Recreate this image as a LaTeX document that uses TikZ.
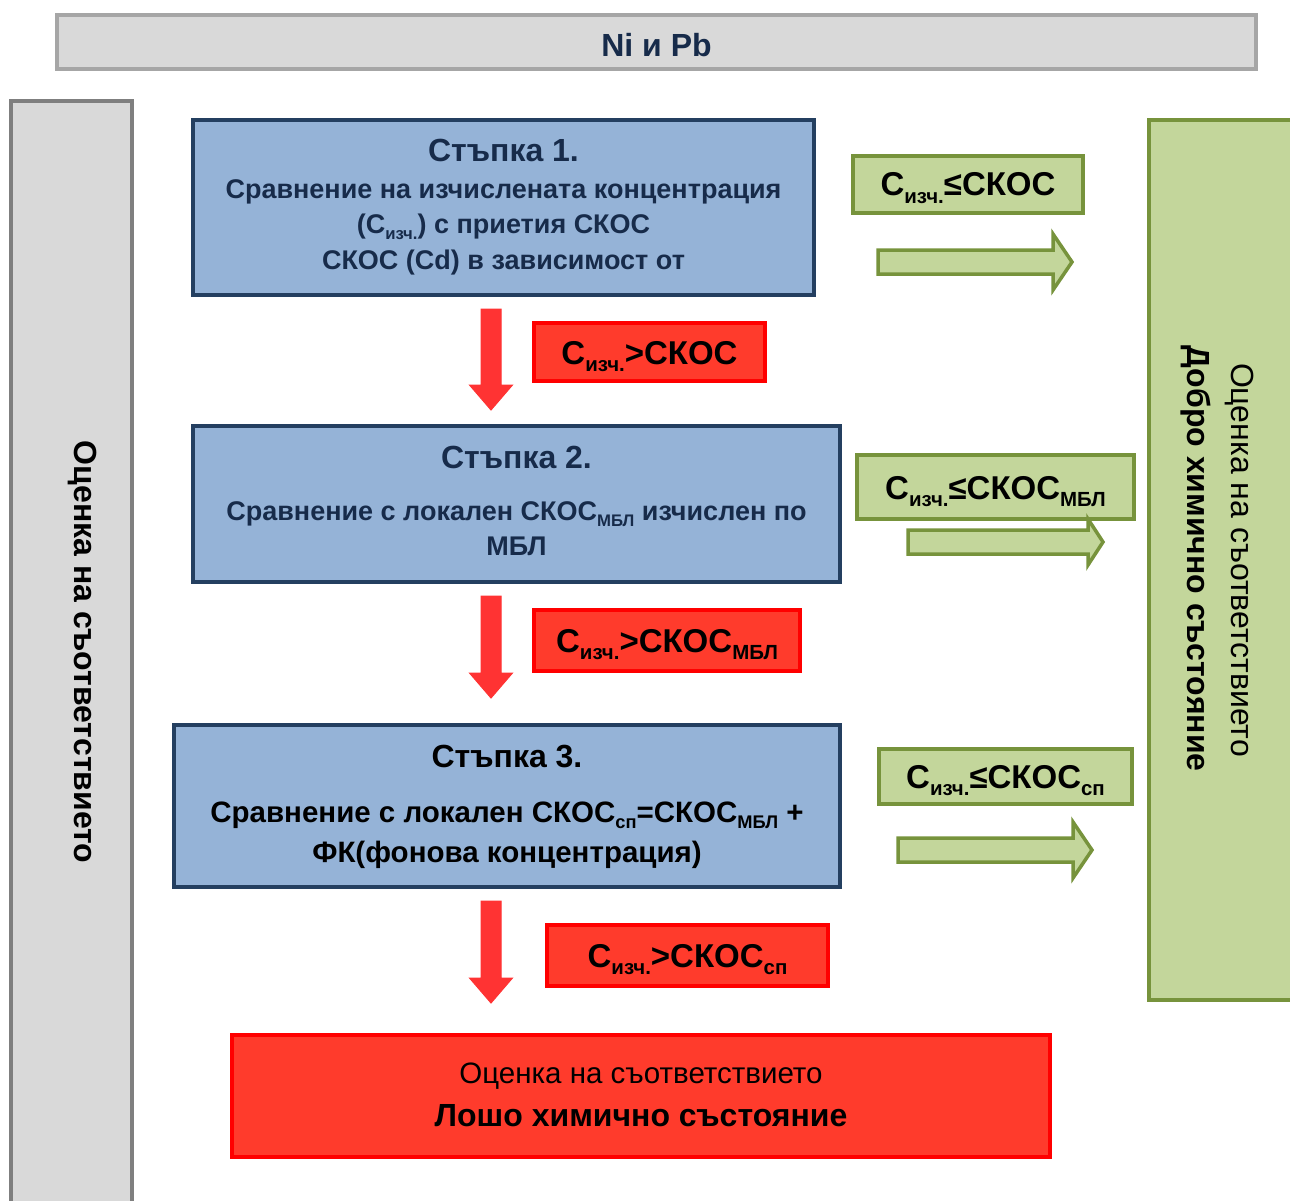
\documentclass[tikz,border=0pt]{standalone}
\usepackage{fontspec}
\usepackage{graphicx}
\setmainfont{Liberation Sans}
\usetikzlibrary{calc}
\definecolor{grayfill}{HTML}{D9D9D9}
\definecolor{grayline}{HTML}{A6A6A6}
\definecolor{grayline2}{HTML}{7F7F7F}
\definecolor{stepfill}{HTML}{95B3D7}
\definecolor{stepline}{HTML}{243F60}
\definecolor{navytext}{HTML}{172B4A}
\definecolor{greenfill}{HTML}{C3D69B}
\definecolor{greenline}{HTML}{77933C}
\definecolor{redfill}{HTML}{FF3B2C}
\definecolor{redline}{HTML}{FF0000}
\definecolor{arrowred}{HTML}{FF3333}
\newcommand\dn[1]{\raisebox{-0.22em}{\scalebox{0.62}{#1}}}
\tikzset{
  boxbase/.style={inner sep=0pt, outer sep=0pt, line width=4pt},
  graybox/.style={boxbase, draw=grayline, fill=grayfill},
  stepbox/.style={boxbase, draw=stepline, fill=stepfill},
  greenbox/.style={boxbase, draw=greenline, fill=greenfill},
  redbox/.style={boxbase, draw=redline, fill=redfill},
  txt/.style={inner sep=0pt, anchor=base, font=\bfseries},
  titletxt/.style={txt, font=\fontsize{32}{36}\selectfont\bfseries},
  bodytxt/.style={txt, font=\fontsize{27}{30}\selectfont\bfseries},
  bodytxtb/.style={txt, font=\fontsize{29.5}{32}\selectfont\bfseries},
  labtxt/.style={txt, font=\fontsize{33}{36}\selectfont\bfseries},
  greenarrow/.style={draw=greenline, fill=greenfill, line width=3.5pt, line join=miter},
  redarrow/.style={draw=arrowred, fill=arrowred, line width=1pt},
}
\begin{document}
\begin{tikzpicture}[x=1pt,y=-1pt]
\useasboundingbox (0,0) rectangle (1290,1201);
% top bar
\node[graybox, minimum width=1199, minimum height=54] (top) at (656.5,42) {};
\node[txt, text=navytext, font=\fontsize{32}{36}\selectfont\bfseries] (toptxt) at (656.5,56.5) {Ni и Pb};
% left bar
\node[graybox, draw=grayline2, minimum width=121, minimum height=1110] (left) at (71.5,656) {};
\node[txt, rotate=-90, font=\fontsize{32}{36}\selectfont\bfseries] (lefttxt) at (74.5,652) {Оценка на съответствието};
% right bar
\node[greenbox, minimum width=160, minimum height=879] (right) at (1229,560) {};
\node[txt, rotate=-90, font=\fontsize{32}{36}\selectfont] (righttxt1) at (1231.5,560) {Оценка на съответствието};
\node[txt, rotate=-90, font=\fontsize{32}{36}\selectfont\bfseries] (righttxt2) at (1187.5,558.5) {Добро химично състояние};
% step 1
\node[stepbox, minimum width=621, minimum height=175] (s1) at (503.5,207.5) {};
\node[titletxt, text=navytext] (s1t) at (503.5,161.5) {Стъпка 1.};
\node[bodytxt, text=navytext] (s1a) at (503.5,198.5) {Сравнение на изчислената концентрация};
\node[bodytxt, text=navytext] (s1b) at (503.5,233.5) {(C\dn{изч.}) с приетия СКОС};
\node[bodytxt, text=navytext] (s1c) at (503.5,269.5) {СКОС (Cd) в зависимост от};
% step 2
\node[stepbox, minimum width=647, minimum height=156] (s2) at (516.5,504) {};
\node[titletxt, text=navytext] (s2t) at (516.5,468.5) {Стъпка 2.};
\node[bodytxt, text=navytext] (s2a) at (516.5,520.5) {Сравнение с локален СКОС\dn{МБЛ} изчислен по};
\node[bodytxt, text=navytext] (s2b) at (516.5,555.5) {МБЛ};
% step 3
\node[stepbox, minimum width=666, minimum height=162] (s3) at (507,806) {};
\node[titletxt] (s3t) at (507,767.5) {Стъпка 3.};
\node[bodytxtb] (s3a) at (507,822.5) {Сравнение с локален СКОС\dn{сп}=СКОС\dn{МБЛ} +};
\node[bodytxtb] (s3b) at (507,862.5) {ФК(фонова концентрация)};
% red labels
\node[redbox, minimum width=231, minimum height=58] (r1) at (649.5,352) {};
\node[labtxt] (r1t) at (649.5,364) {C\dn{изч.}>СКОС};
\node[redbox, minimum width=266, minimum height=61] (r2) at (667,640.5) {};
\node[labtxt] (r2t) at (667,652) {C\dn{изч.}>СКОС\dn{МБЛ}};
\node[redbox, minimum width=281, minimum height=61] (r3) at (687.5,955.5) {};
\node[labtxt] (r3t) at (687.5,967) {C\dn{изч.}>СКОС\dn{сп}};
% green labels
\node[greenbox, minimum width=230, minimum height=57] (g1) at (968,184.5) {};
\node[labtxt] (g1t) at (968,196) {C\dn{изч.}≤СКОС};
\node[greenbox, minimum width=277, minimum height=64] (g2) at (995.5,487) {};
\node[labtxt] (g2t) at (995.5,499) {C\dn{изч.}≤СКОС\dn{МБЛ}};
\node[greenbox, minimum width=253, minimum height=55] (g3) at (1005.5,776.5) {};
\node[labtxt] (g3t) at (1005.5,788) {C\dn{изч.}≤СКОС\dn{сп}};
% bottom box
\node[redbox, minimum width=818, minimum height=122] (bot) at (641,1096) {};
\node[txt, font=\fontsize{29.5}{32}\selectfont] (bott1) at (641,1083.5) {Оценка на съответствието};
\node[txt, font=\fontsize{32}{36}\selectfont\bfseries] (bott2) at (641,1126.5) {Лошо химично състояние};
% red down arrows
\foreach \n/\yt/\yb in {1/309/410, 2/596/698, 3/901/1003}{
  \coordinate (ra\n) at (491,\yt);
  \draw[redarrow] ($(ra\n)+(-10,0)$) -- ($(ra\n)+(10,0)$) -- (501,\yb-25) -- (512.5,\yb-25) -- (491,\yb) -- (469.5,\yb-25) -- (481,\yb-25) -- cycle;
}
% green right arrows: xstart, xneck, xtip, ycenter, shaft half, head half
\foreach \n/\xs/\xn/\xt/\yc/\sh/\hh in {1/878/1053/1072/262/12/28, 2/908/1088/1103/542/12/23, 3/898/1073/1092/850/12/28}{
  \coordinate (ga\n) at (\xs,\yc);
  \draw[greenarrow] ($(ga\n)+(0,-\sh)$) -- (\xn,\yc-\sh) -- (\xn,\yc-\hh) -- (\xt,\yc) -- (\xn,\yc+\hh) -- (\xn,\yc+\sh) -- ($(ga\n)+(0,\sh)$) -- cycle;
}
\end{tikzpicture}
\end{document}
